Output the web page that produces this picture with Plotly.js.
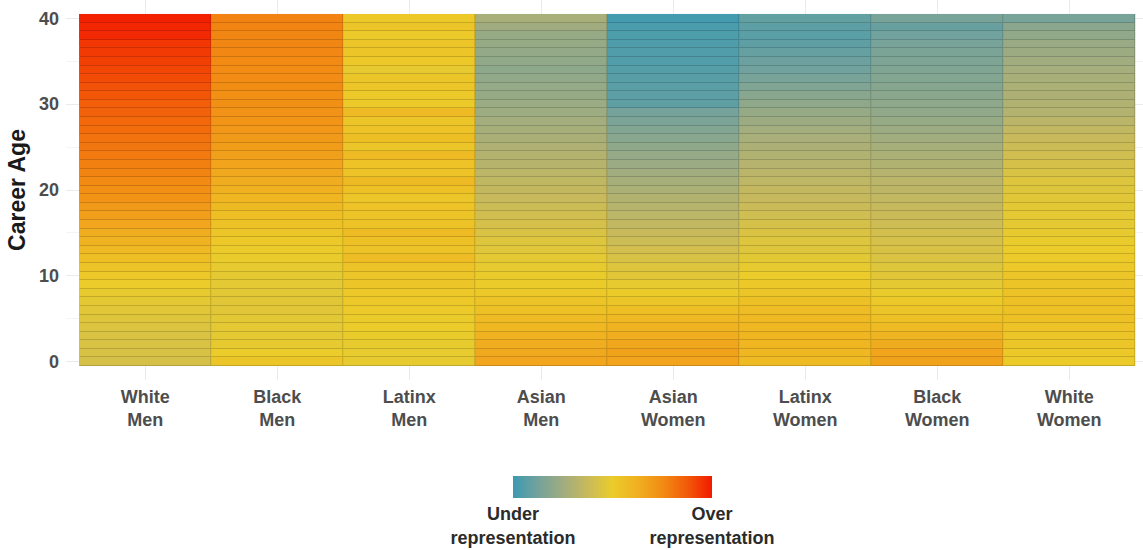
<!DOCTYPE html>
<html>
<head>
<meta charset="utf-8">
<script src="https://cdn.plot.ly/plotly-3.0.1.min.js"></script>
<style>
  html, body { margin: 0; padding: 0; background: #ffffff; }
  #chart { width: 1143px; height: 550px; }
</style>
</head>
<body>
<div id="chart"></div>
<script>
// Categories (x axis, left to right)
const groups = ["White<br>Men", "Black<br>Men", "Latinx<br>Men", "Asian<br>Men",
                "Asian<br>Women", "Latinx<br>Women", "Black<br>Women", "White<br>Women"];

// Career age (y axis), bottom to top
const careerAge = [0,1,2,3,4,5,6,7,8,9,10,11,12,13,14,15,16,17,18,19,20,
                   21,22,23,24,25,26,27,28,29,30,31,32,33,34,35,36,37,38,39,40];

// Representation score per group, career age 0 .. 40 (-1 under, 0 parity, +1 over)
const whiteMen = [-0.15,-0.14,-0.13,-0.12,-0.11,-0.09,-0.07,-0.05,-0.03,0.00,0.03,
                  0.07,0.12,0.17,0.22,0.27,0.32,0.37,0.41,0.45,0.48,
                  0.51,0.54,0.56,0.59,0.61,0.63,0.66,0.68,0.71,0.73,
                  0.76,0.78,0.81,0.83,0.85,0.87,0.89,0.94,0.95,0.97];
const blackMen = [0.06,0.00,-0.03,-0.04,-0.05,-0.06,-0.07,-0.07,-0.06,-0.05,-0.04,
                  -0.03,-0.01,0.01,0.03,0.06,0.09,0.12,0.16,0.20,0.24,
                  0.27,0.30,0.33,0.36,0.38,0.40,0.42,0.44,0.46,0.47,
                  0.48,0.49,0.50,0.50,0.51,0.52,0.53,0.53,0.54,0.55];
const latinxMen = [-0.03,-0.02,-0.02,-0.01,0.00,0.01,0.02,0.03,0.03,0.05,0.06,
                   0.07,0.13,0.08,0.10,0.15,0.08,0.07,0.08,0.06,0.10,
                   0.16,0.08,0.08,0.15,0.06,0.12,0.08,0.06,0.15,0.02,
                   0.04,0.06,0.05,-0.03,0.04,0.06,0.05,0.02,0.06,0.03];
const asianMen = [0.32,0.30,0.27,0.23,0.19,0.15,0.11,0.07,0.04,0.01,-0.01,
                  -0.03,-0.05,-0.08,-0.10,-0.13,-0.16,-0.19,-0.22,-0.25,-0.28,
                  -0.30,-0.33,-0.36,-0.38,-0.41,-0.44,-0.46,-0.48,-0.51,-0.53,
                  -0.55,-0.56,-0.58,-0.60,-0.58,-0.57,-0.55,-0.55,-0.50,-0.45];
const asianWomen = [0.33,0.35,0.31,0.27,0.22,0.17,0.12,0.06,0.01,-0.03,-0.07,
                    -0.10,-0.14,-0.18,-0.22,-0.25,-0.29,-0.33,-0.36,-0.39,-0.43,
                    -0.46,-0.49,-0.53,-0.56,-0.59,-0.63,-0.66,-0.70,-0.74,-0.84,
                    -0.85,-0.86,-0.87,-0.88,-0.90,-0.90,-0.91,-0.92,-0.93,-0.97];
const latinxWomen = [0.15,0.18,0.20,0.20,0.19,0.17,0.14,0.10,0.06,0.03,0.00,
                     -0.03,-0.06,-0.09,-0.10,-0.12,-0.16,-0.20,-0.23,-0.26,-0.28,
                     -0.31,-0.34,-0.37,-0.40,-0.42,-0.45,-0.48,-0.52,-0.55,-0.59,
                     -0.63,-0.68,-0.72,-0.76,-0.78,-0.81,-0.84,-0.86,-0.85,-0.82];
const blackWomen = [0.35,0.33,0.28,0.21,0.15,0.10,0.06,0.03,-0.01,-0.04,-0.07,
                    -0.09,-0.12,-0.14,-0.16,-0.18,-0.21,-0.23,-0.26,-0.29,-0.32,
                    -0.34,-0.37,-0.40,-0.43,-0.46,-0.49,-0.52,-0.55,-0.58,-0.60,
                    -0.62,-0.64,-0.66,-0.67,-0.69,-0.70,-0.72,-0.76,-0.80,-0.72];
const whiteWomen = [0.02,0.03,0.05,0.06,0.08,0.10,0.11,0.10,0.09,0.07,0.05,
                    0.04,0.02,0.00,-0.01,-0.03,-0.04,-0.05,-0.06,-0.07,-0.09,
                    -0.10,-0.13,-0.16,-0.19,-0.22,-0.25,-0.29,-0.34,-0.38,-0.40,
                    -0.42,-0.43,-0.45,-0.47,-0.49,-0.52,-0.54,-0.58,-0.62,-0.72];

const legendTickVals = [-1, 1];
const legendTickText = ["Under<br>representation", "Over<br>representation"];

const seriesList = [whiteMen, blackMen, latinxMen, asianMen, asianWomen, latinxWomen, blackWomen, whiteWomen];

// z matrix: rows = career age, columns = groups
const z = careerAge.map((_, i) => seriesList.map(s => s[i]));

const zissou = [
  [0.000, "#3B9AB2"],
  [0.125, "#73A29C"],
  [0.250, "#A0AC80"],
  [0.375, "#C8BA5C"],
  [0.500, "#EBCC2A"],
  [0.625, "#F0B020"],
  [0.750, "#F28C14"],
  [0.875, "#F25A08"],
  [1.000, "#F21A00"]
];

// darker copy of the scale: shows through the tile gaps as translucent dark borders
function darken(hex, f) {
  const n = parseInt(hex.slice(1), 16);
  const r = Math.round(((n >> 16) & 255) * f);
  const g = Math.round(((n >> 8) & 255) * f);
  const b = Math.round((n & 255) * f);
  return "rgb(" + r + "," + g + "," + b + ")";
}
const zissouDark = zissou.map(s => [s[0], darken(s[1], 0.84)]);

const FONT = "Liberation Sans, Arial, Helvetica, sans-serif";

const borderLayer = {
  type: "heatmap",
  x: groups, y: careerAge, z: z,
  zmin: -1, zmax: 1,
  colorscale: zissouDark,
  showscale: false, hoverinfo: "skip"
};

const tiles = {
  type: "heatmap",
  x: groups, y: careerAge, z: z,
  zmin: -1, zmax: 1,
  colorscale: zissou,
  xgap: 1, ygap: 1,
  colorbar: {
    orientation: "h",
    x: 0.5074, xanchor: "center",
    y: -0.2526, yanchor: "top",
    len: 199, lenmode: "pixels",
    thickness: 22,
    outlinewidth: 0,
    tickvals: legendTickVals,
    ticktext: legendTickText,
    ticks: "",
    ticklabelposition: "outside",
    tickfont: { family: FONT, size: 18, color: "#2B2B2B", weight: "bold" },
    xpad: 0, ypad: 0
  }
};

const layout = {
  width: 1143, height: 550,
  margin: { l: 66, r: 0, t: 0, b: 170 },
  paper_bgcolor: "#ffffff",
  plot_bgcolor: "#ffffff",
  showlegend: false,
  xaxis: {
    type: "category",
    range: [-0.6, 7.559],
    showgrid: true, gridcolor: "#EBEBEB", gridwidth: 1,
    zeroline: false, showline: false, ticks: "",
    tickfont: { family: FONT, size: 18, color: "#4D4D4D", weight: "bold" },
    ticklabelstandoff: 4,
    automargin: false
  },
  yaxis: {
    range: [-2.13, 42.13],
    tickvals: [0, 10, 20, 30, 40],
    showgrid: true, gridcolor: "#EBEBEB", gridwidth: 1,
    minor: { tickvals: [5, 15, 25, 35], showgrid: true, gridcolor: "#F4F4F4", gridwidth: 1, ticks: "" },
    zeroline: false, showline: false, ticks: "",
    tickfont: { family: FONT, size: 18, color: "#4D4D4D", weight: "bold" },
    ticklabelstandoff: 6,
    title: { text: "Career Age", font: { family: FONT, size: 23, color: "#1A1A1A", weight: "bold" }, standoff: 6 },
    automargin: false
  }
};

Plotly.newPlot("chart", [borderLayer, tiles], layout, { displayModeBar: false, staticPlot: true });
</script>
</body>
</html>
